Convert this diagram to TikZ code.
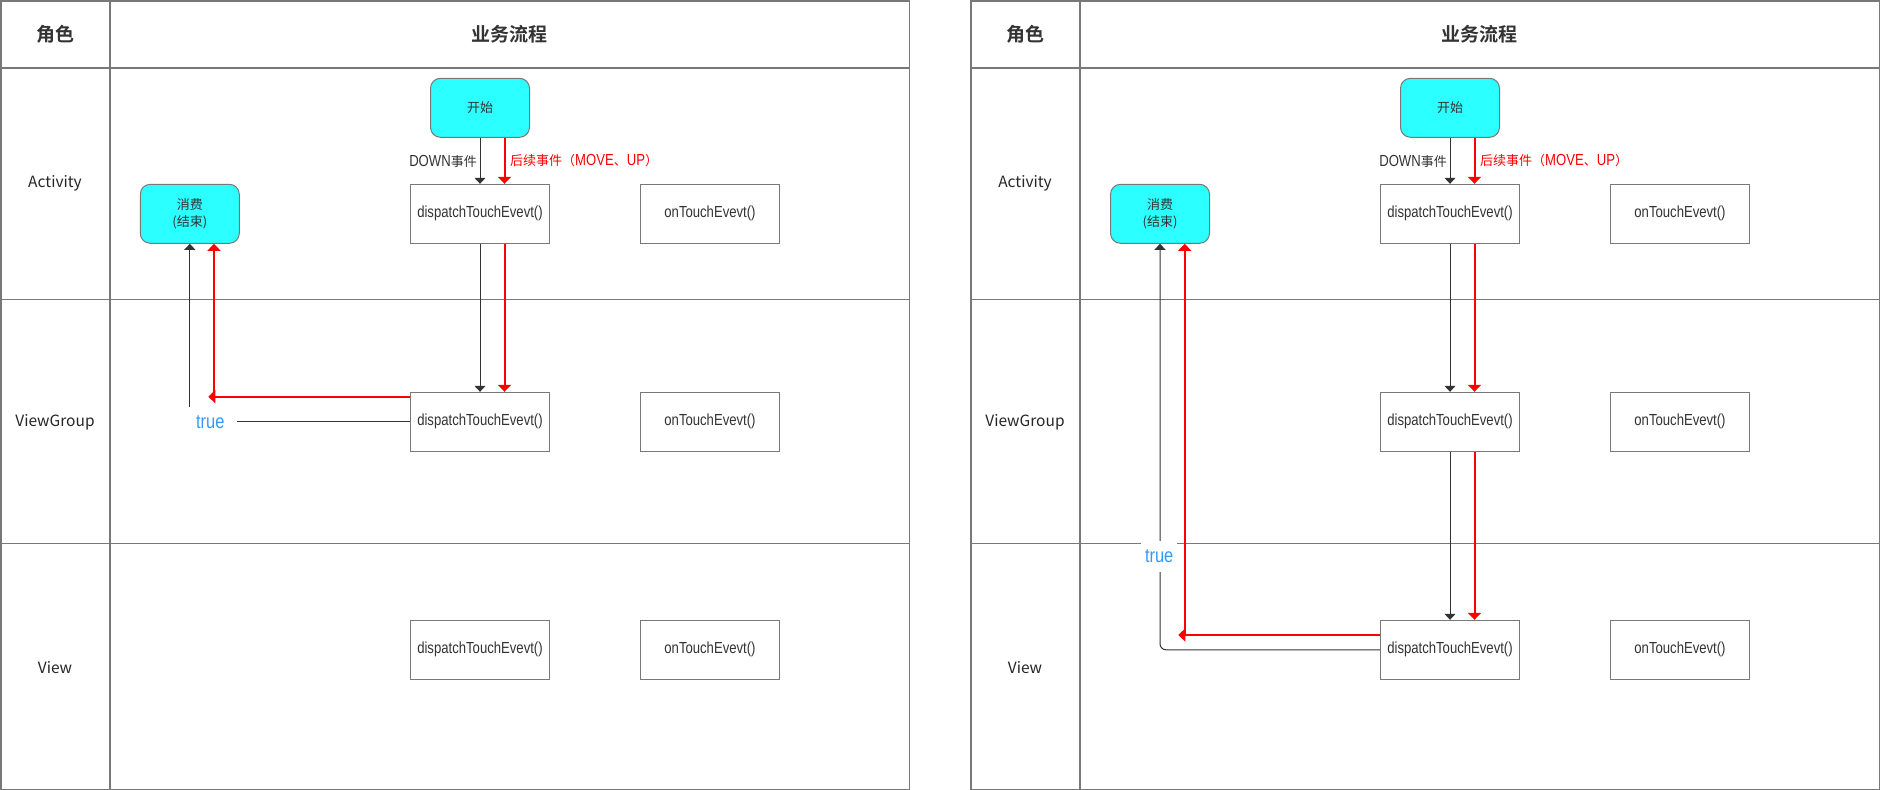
\documentclass[tikz,border=0pt]{standalone}
\usepackage{fontspec}
\setmainfont{Liberation Sans}
\newfontfamily\cjk{Noto Sans CJK SC}
\newfontfamily\cjkbold{Noto Sans CJK SC Bold}
\newfontfamily\narrow[FakeStretch=0.82]{Liberation Sans}
\usetikzlibrary{arrows.meta}
\definecolor{tblgray}{RGB}{120,120,120}
\definecolor{boxgray}{RGB}{120,120,120}
\definecolor{cyanfill}{RGB}{43,255,255}
\definecolor{txt}{RGB}{51,51,51}
\definecolor{arrblack}{RGB}{51,51,51}
\definecolor{myred}{RGB}{255,0,0}
\definecolor{myblue}{RGB}{51,153,255}
\newcommand\myLat[1]{{\narrow\fontsize{16}{18}\selectfont #1}}
\newcommand\myZh[1]{{\cjk\fontsize{13}{15}\selectfont #1}}
\tikzset{
  tbl/.style={draw=tblgray, line width=1.5pt},
  fnbox/.style={draw=boxgray, line width=1pt, minimum width=139pt, minimum height=59pt, inner sep=0pt, text=txt, font=\narrow\fontsize{16}{18}\selectfont},
  term/.style={draw=boxgray, line width=1pt, fill=cyanfill, rounded corners=10pt, minimum width=99pt, minimum height=59pt, inner sep=0pt, text=txt, align=center, font=\cjk\fontsize{13}{17.7}\selectfont},
  blk/.style={draw=arrblack, line width=1pt, -{Triangle[width=11pt,length=6pt]}},
  redar/.style={draw=myred, line width=2pt, -{Triangle[width=13pt,length=7pt]}},
  hdr/.style={inner sep=0pt, text=txt, font=\cjkbold\fontsize{19}{21}\selectfont},
  role/.style={inner sep=0pt, text=black!85, font=\cjk\fontsize{15.5}{18}\selectfont},
  lbl/.style={inner sep=0pt, text=txt},
  truelbl/.style={fill=white, inner sep=0pt, text=myblue, font=\narrow\fontsize{20}{22}\selectfont},
}
\begin{document}
\begin{tikzpicture}[x=1pt,y=-1pt]
\fill[white] (0,0) rectangle (1880,790);
\useasboundingbox (0,0) rectangle (1880,790);

% ---------------- tables ----------------
\foreach \o in {0,970}{
  \draw[tbl] (\o+0.75,0.75) rectangle (\o+909.25,789.25);
  \draw[tbl] (\o+109.75,0.75) -- (\o+109.75,789.25);
  \draw[tbl] (\o+0.75,68) -- (\o+909.25,68);
  \draw[tbl] (\o+0.75,299.5) -- (\o+909.25,299.5);
  \draw[tbl] (\o+0.75,543.7) -- (\o+909.25,543.7);
}

% ---------------- left table ----------------
\node[hdr] (Lh1) at (55,34.5) {角色};
\node[hdr] (Lh2) at (509.5,34.5) {业务流程};
\node[role] (Lr1) at (55,183.6) {Activity};
\node[role] (Lr2) at (55,422.5) {ViewGroup};
\node[role] (Lr3) at (55,667.5) {View};

\node[term] (Lstart) at (480,107.8) {开始};
\node[fnbox] (Lad) at (480,213.8) {dispatchTouchEvevt()};
\node[fnbox] (Lao) at (710,213.8) {onTouchEvevt()};
\node[term] (Lcons) at (189.8,213.8) {消费\\(结束)};
\node[fnbox] (Lvgd) at (480,421.8) {dispatchTouchEvevt()};
\node[fnbox] (Lvgo) at (710,421.8) {onTouchEvevt()};
\node[fnbox] (Lvd) at (480,649.8) {dispatchTouchEvevt()};
\node[fnbox] (Lvo) at (710,649.8) {onTouchEvevt()};

\node[lbl, anchor=east] (Ldown) at (477,161) {\myLat{DOWN}\myZh{事件}};
\node[lbl, anchor=west, text=myred] (Lnext) at (510,161) {\myZh{后续事件（}\myLat{MOVE}\myZh{、}\myLat{UP}\myZh{）}};

\draw[blk] (Lstart) -- (Lad);
\draw[blk] (Lad) -- (Lvgd);
\draw[redar] ([xshift=24.5pt]Lstart.south) -- ([xshift=24.5pt]Lad.north);
\draw[redar] ([xshift=24.5pt]Lad.south) -- ([xshift=24.5pt]Lvgd.north);

\coordinate (Lrt) at (208.3,396.7);
\coordinate (Lrc) at (214,397.7);
\draw[redar] ([yshift=25.1pt]Lvgd.west) -- (Lrt);
\draw[redar] (Lrc) -- ([xshift=24.2pt]Lcons.south);

\draw[blk] (Lvgd.west) -| (Lcons.south);
\node[truelbl, minimum width=53pt, minimum height=31pt] (Ltrue) at (210.3,422.3) {true};

% ---------------- right table ----------------
\node[hdr] (Rh1) at (1025,34.5) {角色};
\node[hdr] (Rh2) at (1479.5,34.5) {业务流程};
\node[role] (Rr1) at (1025,183.6) {Activity};
\node[role] (Rr2) at (1025,422.5) {ViewGroup};
\node[role] (Rr3) at (1025,667.5) {View};

\node[term] (Rstart) at (1450,107.8) {开始};
\node[fnbox] (Rad) at (1450,213.8) {dispatchTouchEvevt()};
\node[fnbox] (Rao) at (1680,213.8) {onTouchEvevt()};
\node[term] (Rcons) at (1160,213.8) {消费\\(结束)};
\node[fnbox] (Rvgd) at (1450,421.8) {dispatchTouchEvevt()};
\node[fnbox] (Rvgo) at (1680,421.8) {onTouchEvevt()};
\node[fnbox] (Rvd) at (1450,649.8) {dispatchTouchEvevt()};
\node[fnbox] (Rvo) at (1680,649.8) {onTouchEvevt()};

\node[lbl, anchor=east] (Rdown) at (1447,161) {\myLat{DOWN}\myZh{事件}};
\node[lbl, anchor=west, text=myred] (Rnext) at (1480,161) {\myZh{后续事件（}\myLat{MOVE}\myZh{、}\myLat{UP}\myZh{）}};

\draw[blk] (Rstart) -- (Rad);
\draw[blk] (Rad) -- (Rvgd);
\draw[blk] (Rvgd) -- (Rvd);
\draw[redar] ([xshift=24.5pt]Rstart.south) -- ([xshift=24.5pt]Rad.north);
\draw[redar] ([xshift=24.5pt]Rad.south) -- ([xshift=24.5pt]Rvgd.north);
\draw[redar] ([xshift=24.5pt]Rvgd.south) -- ([xshift=24.5pt]Rvd.north);

\coordinate (Rrt) at (1178.3,635);
\coordinate (Rrc) at (1184.7,636);
\draw[redar] ([yshift=14.8pt]Rvd.west) -- (Rrt);
\draw[redar] (Rrc) -- ([xshift=24.7pt]Rcons.south);

\draw[blk, rounded corners=6pt] (Rvd.west) -| (Rcons.south);
\node[truelbl, minimum width=36pt, minimum height=31.6pt] (Rtrue) at (1159.2,556.5) {true};
\end{tikzpicture}
\end{document}
